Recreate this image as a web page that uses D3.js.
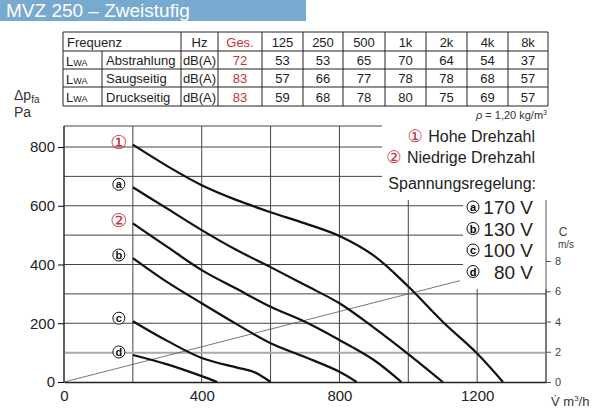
<!DOCTYPE html>
<html><head><meta charset="utf-8">
<script src="https://cdn.jsdelivr.net/npm/d3@7"></script>
<style>body{margin:0;background:#fff}svg{font-family:"Liberation Sans Narrow","Liberation Sans",Arial,sans-serif}</style>
</head><body>
<svg id="c" width="600" height="414"></svg>
<script>
// table data
var tableHead = ["Frequenz", "Hz", "Ges.", "125", "250", "500", "1k", "2k", "4k", "8k"];
var rowNames = ["Abstrahlung", "Saugseitig", "Druckseitig"];
var rowGes = [72, 83, 83];
var rowBands = [[53, 53, 65, 70, 64, 54, 37], [57, 66, 77, 78, 78, 68, 57], [59, 68, 78, 80, 75, 69, 57]];

// curves: [m3/h, Pa]
var curve1 = [[200,808],[300,735],[400,670],[500,620],[600,578],[700,540],[800,497],[900,430],[1000,325],[1100,205],[1200,97],[1275,0]];
var curveA = [[200,663],[300,590],[400,517],[500,450],[600,391],[700,330],[800,268],[900,185],[1000,95],[1100,0]];
var curve2 = [[200,540],[300,460],[400,381],[500,318],[600,256],[700,205],[800,143],[900,75],[980,0]];
var curveB = [[200,422],[300,340],[400,268],[500,198],[600,132],[700,85],[800,35],[850,0]];
var curveC = [[200,207],[300,140],[400,82],[500,50],[550,35],[600,0]];
var curveD = [[200,92],[300,60],[400,20],[445,0]];
var curveLabels = ["①", "a", "②", "b", "c", "d"];
var velocity = [[0,0],[1150,6.7]];   // m/s
var xTicks = [0, 400, 800, 1200];
var yTicks = [0, 200, 400, 600, 800];
var vTicks = [0, 2, 4, 6, 8];
var voltages = ["170 V", "130 V", "100 V", "80 V"];

var svg = d3.select("#c");
var red = "#c8323c";

// title bar
svg.append("rect").attr("x", 0).attr("y", 0).attr("width", 306).attr("height", 21).attr("fill", "#78a9cf");
svg.append("text").attr("x", 6).attr("y", 17).attr("fill", "#fff").attr("font-size", 19)
  .attr("font-family", "Liberation Sans, Arial").text("MVZ 250 – Zweistufig");

// table
var colX = [63, 102, 181, 218, 262, 303, 343, 385, 426, 467, 508, 548];
var rowY = [32, 51, 69, 87, 106];
var tg = svg.append("g").attr("stroke", "#222").attr("stroke-width", 1);
rowY.forEach(function(yy) { tg.append("line").attr("x1", 63).attr("x2", 548).attr("y1", yy).attr("y2", yy); });
colX.forEach(function(xx, i) {
  tg.append("line").attr("x1", xx).attr("x2", xx).attr("y1", i == 1 ? 51 : 32).attr("y2", 106);
});
var tt = svg.append("g").attr("font-size", 13).attr("fill", "#222");
function cell(t, ci, ri, color, anchor) {
  var cx = anchor == "start" ? colX[ci] + 4 : (colX[ci] + colX[ci + 1]) / 2;
  tt.append("text").attr("x", cx).attr("y", (rowY[ri] + rowY[ri + 1]) / 2 + 5)
    .attr("text-anchor", anchor || "middle").attr("fill", color || "#222").text(t);
}
cell(tableHead[0], 0, 0, null, "start");
tableHead.slice(1).forEach(function(t, i) { cell(t, i + 2, 0, i == 1 ? red : null); });
rowNames.forEach(function(n, r) {
  var t = tt.append("text").attr("x", 66).attr("y", rowY[r + 1] + 15);
  t.append("tspan").text("L");
  t.append("tspan").attr("font-size", 9).text("WA");
  cell(n, 1, r + 1, null, "start");
  cell("dB(A)", 2, r + 1);
  cell(rowGes[r], 3, r + 1, red);
  rowBands[r].forEach(function(v, i) { cell(v, i + 4, r + 1); });
});
var rho = svg.append("text").attr("x", 547).attr("y", 119).attr("text-anchor", "end").attr("font-size", 11).attr("fill", "#333");
rho.append("tspan").attr("font-style", "italic").text("ρ");
rho.append("tspan").text(" = 1,20 kg/m");
rho.append("tspan").attr("font-size", 7).attr("dy", -4).text("3");

// scales
var x = d3.scaleLinear().domain([0, 1400]).range([64, 546]);
var y = d3.scaleLinear().domain([0, 800]).range([382, 147]);
var yv = d3.scaleLinear().domain([0, 8]).range([382, 261]);
var plotTop = 126;

// grid
var grid = svg.append("g").attr("stroke", "#444").attr("stroke-width", 1);
d3.range(0, 1401, 200).forEach(function(v) {
  grid.append("line").attr("x1", x(v)).attr("x2", x(v)).attr("y1", plotTop).attr("y2", 382);
});
d3.range(200, 801, 100).forEach(function(v) {
  grid.append("line").attr("x1", x(0)).attr("x2", x(1400)).attr("y1", y(v)).attr("y2", y(v));
});
svg.append("line").attr("x1", x(0)).attr("x2", x(1400)).attr("y1", y(100)).attr("y2", y(100))
  .attr("stroke", "#aaa").attr("stroke-width", 2);
svg.append("line").attr("x1", x(0)).attr("x2", x(1400)).attr("y1", plotTop).attr("y2", plotTop).attr("stroke", "#444");

// velocity line
svg.append("path").datum(velocity).attr("fill", "none").attr("stroke", "#555").attr("stroke-width", 0.8)
  .attr("d", d3.line().x(function(d) { return x(d[0]); }).y(function(d) { return yv(d[1]); }));

// legend background
svg.append("rect").attr("x", 382).attr("y", plotTop - 1).attr("width", 166).attr("height", 75).attr("fill", "#fff");
svg.append("rect").attr("x", 463).attr("y", 199).attr("width", 85).attr("height", 90).attr("fill", "#fff");

// axes
svg.append("g").attr("transform", "translate(0,382)")
  .call(d3.axisBottom(x).tickValues(xTicks).tickFormat(d3.format("d")).tickSize(0).tickPadding(8))
  .call(function(g) { g.select(".domain").attr("stroke", "#222").attr("stroke-width", 1.5); g.selectAll("text").attr("font-size", 15).attr("fill", "#222").attr("font-family", "Liberation Sans, Arial"); });
svg.append("g").attr("transform", "translate(64,0)")
  .call(d3.axisLeft(y).tickValues(yTicks).tickSize(6).tickPadding(3))
  .call(function(g) { g.select(".domain").attr("d", "M0," + plotTop + "V382").attr("stroke", "#222"); g.selectAll("text").attr("font-size", 15).attr("fill", "#222").attr("font-family", "Liberation Sans, Arial"); });
svg.append("g").attr("transform", "translate(546,0)")
  .call(d3.axisRight(yv).tickValues(vTicks).tickSize(5).tickPadding(4))
  .call(function(g) { g.select(".domain").attr("d", "M0,200V382").attr("stroke", "#555"); g.selectAll("line").attr("stroke", "#555"); g.selectAll("text").attr("font-size", 11).attr("fill", "#444"); });

svg.append("text").attr("x", 563).attr("y", 236).attr("font-size", 12).attr("fill", "#444").attr("text-anchor", "middle").text("C");
svg.append("text").attr("x", 566).attr("y", 248).attr("font-size", 10).attr("fill", "#444").attr("text-anchor", "middle").text("m/s");
var vq = svg.append("text").attr("x", 551).attr("y", 406).attr("font-size", 13).attr("fill", "#333");
vq.append("tspan").text("V̇ m");
vq.append("tspan").attr("font-size", 8).attr("dy", -5).text("3");
vq.append("tspan").attr("dy", 5).text("/h");
var dp = svg.append("text").attr("x", 14).attr("y", 100).attr("font-size", 14).attr("fill", "#333");
dp.append("tspan").text("Δp");
dp.append("tspan").attr("font-size", 10).attr("dy", 3).text("fa");
svg.append("text").attr("x", 14).attr("y", 117).attr("font-size", 14).attr("fill", "#333").text("Pa");

// curves
var curves = [curve1, curveA, curve2, curveB, curveC, curveD];
var line = d3.line().x(function(d) { return x(d[0]); }).y(function(d) { return y(d[1]); }).curve(d3.curveCatmullRom);
curves.forEach(function(c, i) {
  svg.append("path").datum(c).attr("fill", "none").attr("stroke", "#111").attr("stroke-width", 2.2).attr("d", line);
  var lx = x(c[0][0]) - 14, ly = y(c[0][1]) - 3;
  if (curveLabels[i] != "①" && curveLabels[i] != "②") {
    svg.append("circle").attr("cx", lx).attr("cy", ly).attr("r", 6).attr("fill", "#fff").attr("stroke", "#111").attr("stroke-width", 1);
    svg.append("text").attr("x", lx).attr("y", ly + 4).attr("text-anchor", "middle").attr("font-size", 11).attr("font-weight", "bold").attr("fill", "#111").text(curveLabels[i]);
  } else {
    svg.append("text").attr("x", lx).attr("y", ly + 7).attr("text-anchor", "middle").attr("font-size", 19).attr("fill", red)
      .attr("font-family", "DejaVu Sans").text(curveLabels[i]);
  }
});

// legend
var lg = svg.append("g").attr("text-anchor", "end").attr("fill", "#222");
function lgLine(mark, txt, yy) {
  var t = lg.append("text").attr("x", 535).attr("y", yy).attr("font-size", 16);
  t.append("tspan").attr("fill", red).attr("font-family", "DejaVu Sans").attr("font-size", 17).text(mark + " ");
  t.append("tspan").text(txt);
}
lgLine("①", "Hohe Drehzahl", 142);
lgLine("②", "Niedrige Drehzahl", 163);
lg.append("text").attr("x", 536).attr("y", 189).attr("font-size", 16).text("Spannungsregelung:");
voltages.forEach(function(v, i) {
  var yy = 207 + i * 21.5;
  svg.append("circle").attr("cx", 473).attr("cy", yy).attr("r", 6).attr("fill", "#fff").attr("stroke", "#111");
  svg.append("text").attr("x", 473).attr("y", yy + 4).attr("text-anchor", "middle").attr("font-size", 11).attr("font-weight", "bold").text("abcd"[i]);
  lg.append("text").attr("x", 533).attr("y", yy + 7).attr("font-size", 19).attr("font-family", "Liberation Sans, Arial").text(v);
});
</script>
</body></html>
